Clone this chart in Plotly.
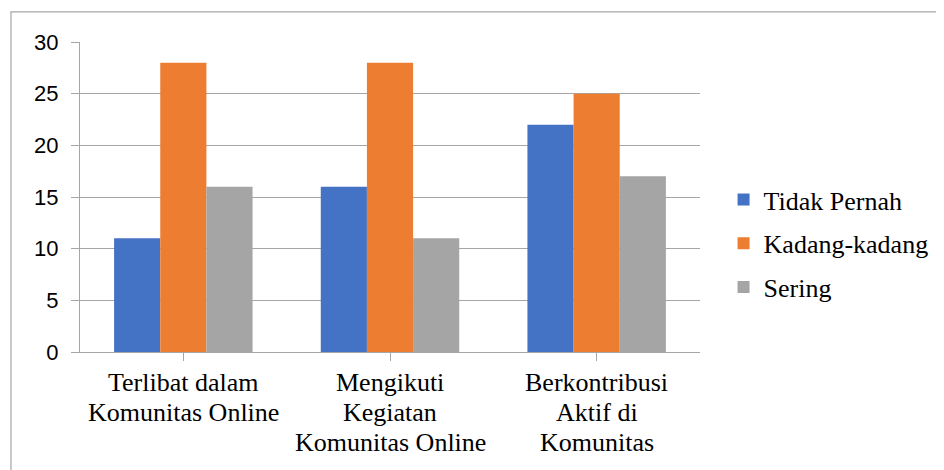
import plotly.graph_objects as go

categories = ["Terlibat dalam<br>Komunitas Online",
              "Mengikuti<br>Kegiatan<br>Komunitas Online",
              "Berkontribusi<br>Aktif di<br>Komunitas"]
series_names = ["Tidak Pernah", "Kadang-kadang", "Sering"]
tidak_pernah = [11, 16, 22]
kadang_kadang = [28, 28, 25]
sering = [16, 11, 17]
colors = ["#4472C4", "#ED7D31", "#A5A5A5"]
y_ticks = [0, 5, 10, 15, 20, 25, 30]

x_idx = list(range(len(categories)))
fig = go.Figure()
for i, (name, vals) in enumerate(zip(series_names, [tidak_pernah, kadang_kadang, sering])):
    fig.add_trace(go.Bar(x=x_idx, y=vals, name=name, marker_color=colors[i],
                         marker_line_width=0, legendgroup=name))

serif = "Liberation Serif"
annotations = []
for ci, cat in enumerate(categories):
    for li, line in enumerate(cat.split("<br>")):
        annotations.append(dict(x=ci, y=0, xref="x", yref="y", text=line, showarrow=False,
                                yanchor="middle", xanchor="center", yshift=-(30 + 30 * li),
                                font=dict(family=serif, size=26, color="black")))

fig.update_layout(
    width=944, height=470,
    margin=dict(l=72, r=252, t=34, b=126),
    paper_bgcolor="white", plot_bgcolor="white",
    bargap=0.33, bargroupgap=0,
    showlegend=True,
    legend=dict(x=1.038, xanchor="left", y=0.35, yanchor="middle", tracegroupgap=7,
                font=dict(family=serif, size=26, color="black"), bgcolor="rgba(0,0,0,0)",
                itemclick=False),
    annotations=annotations,
    xaxis=dict(range=[-0.5, 2.5], tickvals=x_idx, showticklabels=False, showgrid=False,
               showline=True, linecolor="#A6A6A6", linewidth=1, ticks="outside",
               tickson="boundaries", ticklen=8, tickcolor="#A6A6A6", zeroline=False,
               fixedrange=True),
    yaxis=dict(range=[0, 30], tickvals=y_ticks, showgrid=True, gridcolor="#A6A6A6",
               gridwidth=1, showline=True, linecolor="#A6A6A6", linewidth=1,
               ticks="outside", ticklen=8, tickcolor="#A6A6A6", zeroline=False,
               tickfont=dict(family="Liberation Sans", size=22, color="black"),
               ticklabelstandoff=8, fixedrange=True),
    shapes=[dict(type="rect", xref="paper", yref="paper", x0=-0.1113, x1=1.5,
                 y0=-0.6, y1=1.097, line=dict(color="#A6A6A6", width=1.2),
                 fillcolor="rgba(0,0,0,0)", layer="below")],
)
fig.write_html("out.html")
